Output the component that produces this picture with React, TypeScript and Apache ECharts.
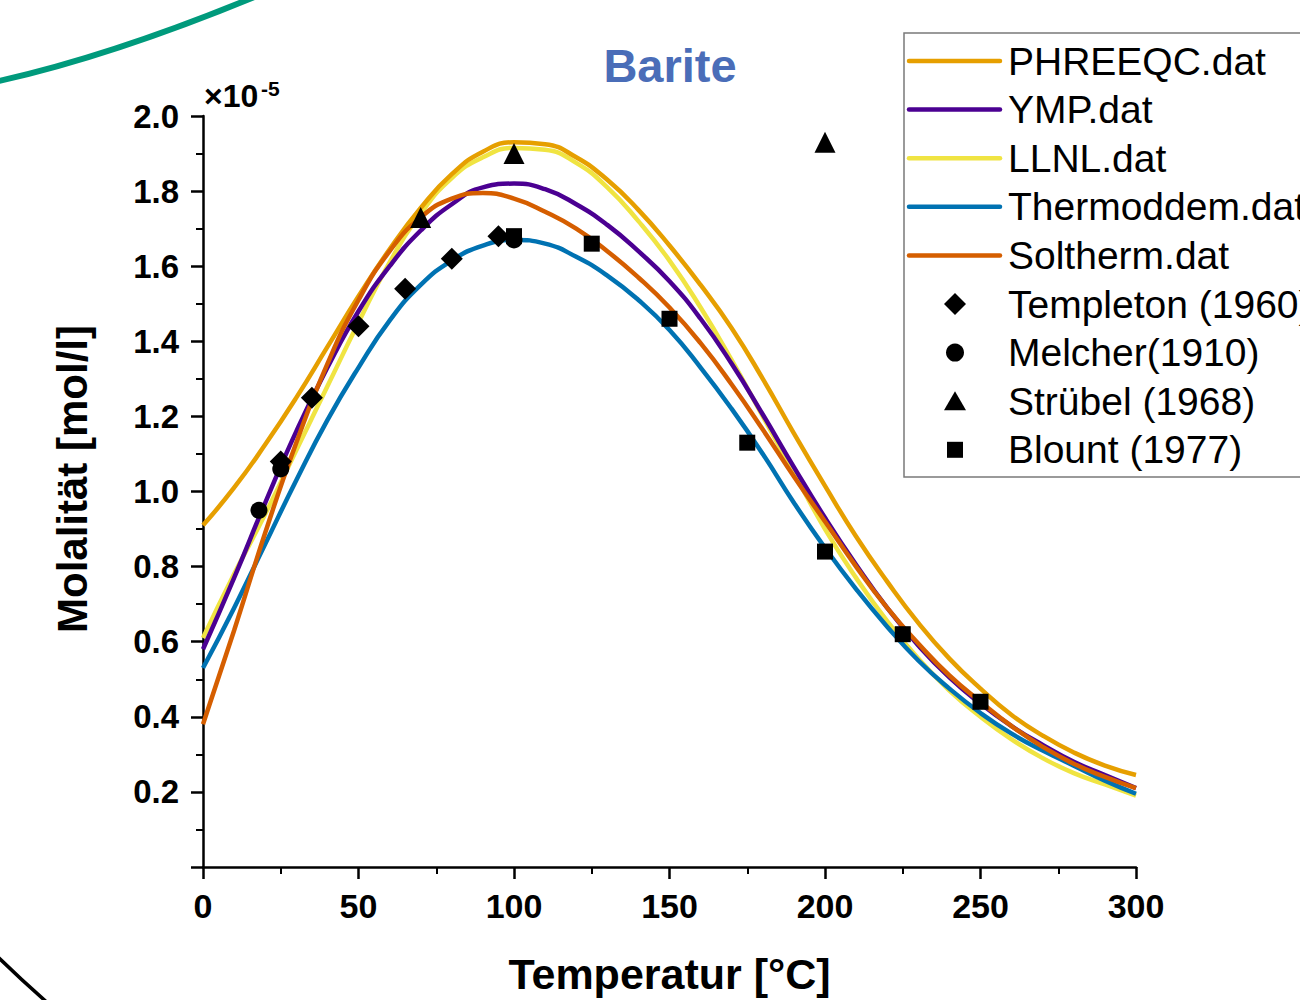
import React, { useEffect, useRef } from "react";
import * as echarts from "echarts";

// Temperature grid (°C) for the model curves
const temperatures = [0, 10, 20, 30, 40, 50, 60, 70, 80, 90, 100, 110, 120, 130, 140, 150, 160, 170, 180, 190, 200, 210, 220, 230, 240, 250, 260, 270, 280, 290, 300];

// Model curves (molality ×10^-5 mol/l)
const phreeqc = [0.91, 1.01, 1.125, 1.25, 1.385, 1.52, 1.645, 1.755, 1.845, 1.905, 1.93, 1.925, 1.89, 1.83, 1.75, 1.655, 1.55, 1.435, 1.3, 1.155, 1.015, 0.88, 0.76, 0.65, 0.555, 0.475, 0.405, 0.35, 0.305, 0.27, 0.245];
const ymp = [0.58, 0.77, 0.97, 1.16, 1.33, 1.48, 1.6, 1.695, 1.765, 1.81, 1.82, 1.805, 1.765, 1.71, 1.64, 1.56, 1.46, 1.34, 1.205, 1.065, 0.93, 0.805, 0.69, 0.59, 0.505, 0.435, 0.375, 0.325, 0.28, 0.245, 0.21];
const llnl = [0.61, 0.78, 0.94, 1.11, 1.28, 1.45, 1.61, 1.74, 1.835, 1.89, 1.915, 1.91, 1.875, 1.81, 1.72, 1.615, 1.49, 1.35, 1.2, 1.05, 0.9, 0.77, 0.655, 0.555, 0.47, 0.4, 0.34, 0.29, 0.25, 0.22, 0.19];
const thermoddem = [0.53, 0.69, 0.86, 1.03, 1.19, 1.33, 1.455, 1.55, 1.615, 1.655, 1.67, 1.66, 1.625, 1.575, 1.51, 1.43, 1.33, 1.22, 1.1, 0.97, 0.85, 0.74, 0.64, 0.55, 0.475, 0.41, 0.355, 0.31, 0.27, 0.23, 0.195];
const soltherm = [0.38, 0.63, 0.89, 1.13, 1.34, 1.51, 1.64, 1.73, 1.78, 1.795, 1.78, 1.745, 1.7, 1.64, 1.57, 1.49, 1.395, 1.285, 1.165, 1.04, 0.92, 0.8, 0.69, 0.595, 0.51, 0.44, 0.375, 0.32, 0.275, 0.24, 0.21];

// Measurements
const templetonT = [25, 35, 50, 65, 80, 95];
const templetonM = [1.08, 1.25, 1.44, 1.54, 1.62, 1.68];
const melcherT = [18, 25, 100];
const melcherM = [0.95, 1.06, 1.67];
const struebelT = [70, 100, 200];
const struebelM = [1.73, 1.9, 1.93];
const blountT = [100, 125, 150, 175, 200, 225, 250];
const blountM = [1.68, 1.66, 1.46, 1.13, 0.84, 0.62, 0.44];

const modelNames = ["PHREEQC.dat", "YMP.dat", "LLNL.dat", "Thermoddem.dat", "Soltherm.dat"];
const modelValues = [phreeqc, ymp, llnl, thermoddem, soltherm];
const modelColors = ["#E69F00", "#4B0092", "#F0E442", "#0072B2", "#D55E00"];
const modelZ = [3, 3, 2, 2, 3];

const pointNames = ["Templeton (1960)", "Melcher(1910)", "Strübel (1968)", "Blount (1977)"];
const pointT = [templetonT, melcherT, struebelT, blountT];
const pointM = [templetonM, melcherM, struebelM, blountM];
const pointSymbols = ["diamond", "circle", "triangle", "rect"];
const pointSizes = [22, 17, 21, 16];

const FONT = "'Liberation Sans', Arial, Helvetica, sans-serif";

function legendSymbol(kind: string, cx: number, cy: number) {
  const fill = { fill: "#000000" };
  if (kind === "diamond") {
    return { type: "polygon", shape: { points: [[cx, cy - 11], [cx + 11, cy], [cx, cy + 11], [cx - 11, cy]] }, style: fill };
  }
  if (kind === "circle") {
    return { type: "circle", shape: { cx, cy, r: 9 }, style: fill };
  }
  if (kind === "triangle") {
    return { type: "polygon", shape: { points: [[cx, cy - 10], [cx + 11, cy + 9], [cx - 11, cy + 9]] }, style: fill };
  }
  return { type: "rect", shape: { x: cx - 8, y: cy - 8, width: 16, height: 16 }, style: fill };
}

export default function App() {
  const ref = useRef<HTMLDivElement>(null);

  useEffect(() => {
    if (!ref.current) return;
    const chart = echarts.init(ref.current, undefined, { renderer: "svg" });

    const lineSeries = modelNames.map((name, i) => ({
      name,
      type: "line",
      data: temperatures.map((t, k) => [t, modelValues[i][k]]),
      showSymbol: false,
      symbol: "none",
      smooth: 0.5,
      z: modelZ[i],
      lineStyle: { width: 4.5, color: modelColors[i] },
      itemStyle: { color: modelColors[i] },
    }));

    const scatterSeries = pointNames.map((name, i) => ({
      name,
      type: "scatter",
      data: pointT[i].map((t, k) => [t, pointM[i][k]]),
      symbol: pointSymbols[i],
      symbolSize: pointSizes[i],
      z: 5,
      itemStyle: { color: "#000000", opacity: 1 },
    }));

    // Legend drawn as graphic elements (box runs past the right edge, as in the original figure)
    const legendTop = 61;
    const legendStep = 48.6;
    const legendNames = [...modelNames, ...pointNames];
    const legendItems: any[] = [
      {
        type: "rect",
        shape: { x: 904, y: 33, width: 420, height: 444 },
        style: { fill: "#ffffff", stroke: "#7a7a7a", lineWidth: 1.5 },
        z: 10,
      },
    ];
    legendNames.forEach((name, i) => {
      const cy = legendTop + i * legendStep;
      if (i < modelNames.length) {
        legendItems.push({
          type: "line",
          shape: { x1: 909, y1: cy, x2: 1000, y2: cy },
          style: { stroke: modelColors[i], lineWidth: 4.5, lineCap: "round" },
          z: 11,
        });
      } else {
        const s = legendSymbol(pointSymbols[i - modelNames.length], 955, cy) as any;
        s.z = 11;
        legendItems.push(s);
      }
      legendItems.push({
        type: "text",
        x: 1008,
        y: cy,
        z: 11,
        style: {
          text: name,
          fontSize: 39,
          fill: "#000000",
          fontFamily: FONT,
          textAlign: "left",
          textVerticalAlign: "middle",
        },
      });
    });

    chart.setOption({
      animation: false,
      backgroundColor: "#ffffff",
      textStyle: { fontFamily: FONT },
      grid: { left: 203, top: 116, right: 164, bottom: 127, containLabel: false },
      xAxis: {
        type: "value",
        min: 0,
        max: 300,
        interval: 50,
        name: "Temperatur [°C]",
        nameLocation: "middle",
        nameGap: 85,
        nameTextStyle: { fontSize: 43, fontWeight: "bold", color: "#000", fontFamily: FONT },
        axisLine: { show: true, onZero: false, lineStyle: { color: "#000", width: 2.5 } },
        axisTick: { show: true, inside: false, length: 12, lineStyle: { color: "#000", width: 2.5 } },
        minorTick: { show: true, splitNumber: 2, length: 7, lineStyle: { color: "#000", width: 2 } },
        axisLabel: { fontSize: 34, fontWeight: "bold", color: "#000", margin: 22, fontFamily: FONT },
        splitLine: { show: false },
      },
      yAxis: {
        type: "value",
        min: 0,
        max: 2.0,
        interval: 0.2,
        axisLine: { show: true, onZero: false, lineStyle: { color: "#000", width: 2.5 } },
        axisTick: { show: true, inside: false, length: 12, lineStyle: { color: "#000", width: 2.5 } },
        minorTick: { show: true, splitNumber: 2, length: 7, lineStyle: { color: "#000", width: 2 } },
        axisLabel: {
          fontSize: 33,
          fontWeight: "bold",
          color: "#000",
          margin: 24,
          fontFamily: FONT,
          formatter: (v: number) => (v === 0 ? "" : v.toFixed(1)),
        },
        splitLine: { show: false },
      },
      graphic: [
        {
          type: "bezierCurve",
          silent: true,
          shape: { x1: -10, y1: 83, x2: 290, y2: -18, cpx1: 120, cpy1: 55 },
          style: { stroke: "#009A7C", lineWidth: 6, fill: "none" },
        },
        {
          type: "bezierCurve",
          silent: true,
          shape: { x1: -25, y1: 934, x2: 50, y2: 1005, cpx1: 10, cpy1: 970 },
          style: { stroke: "#000000", lineWidth: 3.5, fill: "none" },
        },
        {
          type: "text",
          x: 670,
          y: 65,
          style: {
            text: "Barite",
            fontSize: 47,
            fontWeight: "bold",
            fill: "#4A6DB8",
            fontFamily: FONT,
            textAlign: "center",
            textVerticalAlign: "middle",
          },
        },
        {
          type: "text",
          x: 204,
          y: 96,
          style: { text: "×10", fontSize: 32, fontWeight: "bold", fill: "#000", fontFamily: FONT, textVerticalAlign: "middle", textAlign: "left" },
        },
        {
          type: "text",
          x: 261,
          y: 88,
          style: { text: "-5", fontSize: 21, fontWeight: "bold", fill: "#000", fontFamily: FONT, textVerticalAlign: "middle", textAlign: "left" },
        },
        {
          type: "text",
          x: 72,
          y: 479,
          rotation: Math.PI / 2,
          style: {
            text: "Molalität [mol/l]",
            fontSize: 42,
            fontWeight: "bold",
            fill: "#000",
            fontFamily: FONT,
            textAlign: "center",
            textVerticalAlign: "middle",
          },
        },
        ...legendItems,
      ],
      series: [...lineSeries, ...scatterSeries],
    });

    return () => chart.dispose();
  }, []);

  return (
    <div
      ref={ref}
      style={{ position: "fixed", left: 0, top: 0, width: 1300, height: 1000, background: "#fff" }}
    />
  );
}
